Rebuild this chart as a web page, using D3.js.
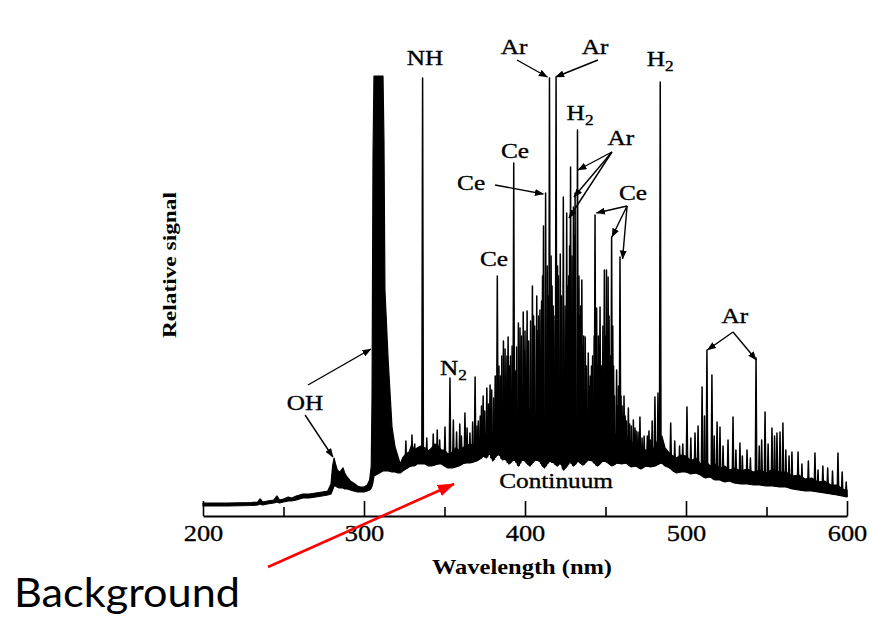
<!DOCTYPE html>
<html><head><meta charset="utf-8">
<script src="https://cdn.jsdelivr.net/npm/d3@7"></script>
<style>
html,body{margin:0;padding:0;background:#fff;}
svg{display:block;}
.ann{font-family:"Liberation Serif","Times New Roman",serif;font-size:22px;fill:#000;stroke:#000;stroke-width:0.35px;}
</style></head><body>
<svg id="chart" width="869" height="618"></svg>
<script>
// ---------- data ----------
const tickValues = [200, 300, 400, 500, 600];
const minorTickValues = [250, 350, 450, 550];

// noisy continuum trace: lower and upper edge (relative signal units)
const bandWavelength = [
  200,215,230,234,235.5,237,240,244,246,247.5,250,253,
  255,258,262,266,270,274,277.5,279.5,280.5,281.4,282.3,283.2,
  284.5,285.5,287,288,289.5,291.5,293.5,296,298,300,302,303.5,
  304.5,305,305.6,306.2,311.8,312.4,313,315,317.4,319.3,321,322.5,
  324,326,328,329.8,331,333,335,338,340,342,344,346,
  348,350,352,355,357,359,361,363,366,368,370,372,
  374,376,378,380,382,384,386,388,390,392,394,396,
  398,400,403,406,409,412,415,418,420,422,424,426,
  428,430,433,436,439,442,445,448,451,454,457,460,
  463,466,469,472,475,478,481,483,485,487,490,492,
  494,497,500,503,506,509,512,515,518,521,524,527,
  530,534,538,542,546,550,554,558,562,566,570,574,
  578,582,586,590,594,597,600];
const bandLow = [
  10,10,10.5,11,12,11,12,13,14,13,14,15,
  15,16,18,18,19,20,21,22,26,30,30,29,
  28,28,28,27,27,26,25,24,24,24,25,26,
  28,30,34,40,45,45,45,45,44,44,43,43,
  45,47,49,50,50,52,52,52,50,50,51,52,
  52,50,48,48,49,50,52,53,53,54,55,57,
  60,58,63,55,60,62,56,57,52,55,56,50,
  56,55,50,56,55,48,55,53,50,54,46,50,
  55,50,55,51,56,55,50,55,54,50,53,52,
  53,49,50,47,50,49,50,52,53,50,48,45,
  43,44,44,42,43,41,38,39,36,36,34,35,
  33,32,32,31,31,30,30,29,29,27,26,25,
  25,24,23,22,21,20,19];
const bandHigh = [
  13,13,13.5,14,17,14,15,16,20,16,17,19,
  18,20,22,22,23,24,25,32,50,58,52,47,
  44,45,48,43,39,35,33,30,29,29,31,36,
  50,120,360,440,440,376,226,156,89,69,60,52,
  58,62,64,72,66,68,70,68,65,68,72,70,
  66,66,62,64,68,66,68,70,72,70,72,78,
  84,80,88,84,90,86,94,88,96,92,100,94,
  102,96,104,98,106,100,104,96,100,94,82,96,
  100,94,98,90,88,92,94,88,90,86,80,76,
  80,74,70,68,66,64,70,78,80,68,62,60,
  58,61,60,55,58,52,55,50,52,48,50,46,
  48,45,47,44,46,43,47,44,44,40,41,37,
  38,34,35,31,31,27,26];

// emission lines: wavelength (nm) and peak height (relative signal units)
const lineWavelength = [
  329.8,336.4,350.3,353.4,355.5,362.7,365.8,369,371,373,375,376.3,
  378.3,380.5,382.8,384.6,385.6,387.6,389.5,391,393,394.8,395.9,396.9,
  398.9,400,401.3,403.5,404.6,406,407.3,408.5,409.3,410.3,411.5,412.8,
  413.8,415.2,416.8,418,419.3,420.8,421.9,423.8,424.9,425.9,427.1,428.3,
  429.2,430.1,431.1,432.6,434,435.3,436.5,437.4,438.2,439.3,440.5,442,
  443.5,444.5,445.5,446.6,447.6,448.4,449.3,450.6,451.6,452.2,453.8,455,
  456.9,458,459,460.3,461.5,463,464.2,466,467.3,469,471.4,474,
  477,479,480.7,482.6,484,490.5,493,496,498,500.6,503,505.6,
  507.5,510,511.5,513,516.1,517.5,519.3,521.1,523,526.1,529.2,531,
  533.5,535,537.9,540,543.5,545.5,547,549.1,551,553.4,555,556.5,
  558.4,560.2,562,564,565.8,569.6,572,576,580.1,582,585,588,
  591,594.4,597,599.5,
  370.2,372.2,374,377.2,379.3,381.5,383.8,386.6,388.8,390.3,392,394,
  397.8,399.6,402.3,405.3,407.9,410.9,414.4,416.2,417.5,420.2,422.7,426.6,
  427.7,430.6,433.5,434.6,436,439.9,441.3,443,445,446.1,447,449.8,
  451.1,453,454.5,455.6,457.5,459.6,462.2,465,468.3,470.2,472.7,476,478,
  326,331.5,339,343,345.5,347,357.5,359.5,360.5,364,367.5];
const linePeak = [
  81,438,89,138,96,103,83,139,95,110,105,128,
  131,118,240,140,160,167,179,160,353,169,193,188,
  204,185,205,195,230,190,220,200,206,215,290,323,
  250,438,230,200,438,240,262,319,210,303,240,349,
  260,309,323,386,200,236,180,179,150,163,140,160,
  301,208,180,209,150,190,246,246,239,200,279,150,
  146,130,259,110,120,95,108,90,96,85,99,80,
  85,95,119,123,434,93,75,70,72,109,78,83,
  90,129,100,166,141,80,94,89,70,76,99,66,
  73,60,66,58,158,70,76,104,72,88,80,83,
  84,93,66,60,64,64,52,55,63,46,50,48,
  45,63,44,34,
  90,100,120,112,126,140,150,175,160,150,170,145,
  180,165,175,200,185,240,220,260,210,250,220,230,
  270,280,240,210,170,130,150,180,150,170,130,180,
  170,160,190,120,110,120,100,92,88,84,78,80,76,
  75,72,78,82,86,76,84,92,80,88,94];

// ---------- drawing ----------
const svg = d3.select("#chart");
const x = d3.scaleLinear().domain([200, 600]).range([203, 847]);
const y = d3.scaleLinear().domain([0, 440]).range([516, 76]);

const defs = svg.append("defs");
defs.append("marker").attr("id","ah").attr("markerUnits","userSpaceOnUse")
  .attr("markerWidth",9).attr("markerHeight",7).attr("refX",8.5).attr("refY",3.5)
  .attr("orient","auto").append("path").attr("d","M0,0L9,3.5L0,7Z").attr("fill","#000");
defs.append("marker").attr("id","ahr").attr("markerUnits","userSpaceOnUse")
  .attr("markerWidth",17).attr("markerHeight",12).attr("refX",16).attr("refY",6)
  .attr("orient","auto").append("path").attr("d","M0,0L17,6L0,12Z").attr("fill","#f00");

const band = bandWavelength.map((w, i) => ({w, lo: bandLow[i], hi: bandHigh[i]}));
svg.append("path").datum(band)
  .attr("d", d3.area().x(d => x(d.w)).y0(d => y(d.lo)).y1(d => y(d.hi)))
  .attr("fill", "#000").attr("stroke", "#000").attr("stroke-width", 1.2)
  .attr("stroke-linejoin", "round");

const bis = d3.bisector(d => d.w).left;
function lowAt(w) {
  const i = Math.max(1, Math.min(band.length - 1, bis(band, w)));
  const a = band[i - 1], b = band[i];
  const t = (w - a.w) / (b.w - a.w);
  return a.lo + t * (b.lo - a.lo);
}
const lines = lineWavelength.map((w, i) => ({w, p: linePeak[i]}));
const lineGen = d3.line();
svg.append("g").selectAll("path").data(lines).join("path")
  .attr("d", d => lineGen([[x(d.w - 0.5), y(lowAt(d.w))], [x(d.w), y(d.p)], [x(d.w + 0.5), y(lowAt(d.w))]]))
  .attr("fill", "#000").attr("stroke", "#000").attr("stroke-width", 1.5)
  .attr("stroke-linejoin", "round");

// axis
const axis = d3.axisBottom(x).tickValues(tickValues).tickSizeInner(-15).tickSizeOuter(0)
  .tickPadding(9).tickFormat(d3.format("d"));
const gA = svg.append("g").attr("transform", "translate(0,516)").call(axis);
gA.select(".domain").attr("stroke-width", 2);
gA.selectAll(".tick line").attr("stroke-width", 1.6);
gA.selectAll(".tick text").attr("font-family", '"Liberation Serif","Times New Roman",serif')
  .attr("font-size", 23).attr("fill", "#000").attr("stroke", "#000").attr("stroke-width", 0.3)
  .attr("transform", "scale(1.15,1)");
const minor = d3.axisBottom(x).tickValues(minorTickValues).tickSizeInner(-9).tickSizeOuter(0).tickFormat("");
const gM = svg.append("g").attr("transform", "translate(0,516)").call(minor);
gM.select(".domain").remove();
gM.selectAll(".tick line").attr("stroke-width", 1.6);

// annotations (in data coordinates)
const P = (w, v) => [x(w), y(v)];
function label(w, v, main, sub) {
  const [px, py] = P(w, v);
  const t = svg.append("text").attr("class", "ann")
    .attr("transform", `translate(${px},${py}) scale(1.15,1)`)
    .attr("text-anchor", "middle").text(main);
  if (sub) t.append("tspan").attr("font-size", 15).attr("dy", 5).text(sub);
}
function arrow(w1, v1, w2, v2) {
  const [a, b] = P(w1, v1), [c, d] = P(w2, v2);
  svg.append("line").attr("x1", a).attr("y1", b).attr("x2", c).attr("y2", d)
    .attr("stroke", "#000").attr("stroke-width", 1.4).attr("marker-end", "url(#ah)");
}
label(263.4, 106, "OH");
arrow(265.2, 131, 304.3, 167);
arrow(263.4, 101, 280.7, 59);
label(337.9, 451, "NH");
label(393.2, 462, "Ar");
arrow(395.0, 456, 413.9, 439);
label(443.5, 462, "Ar");
arrow(445.3, 456, 419.0, 439);
label(483.9, 450, "H", "2");
label(434.2, 396, "H", "2");
label(393.8, 358, "Ce");
label(366.5, 326, "Ce");
arrow(381.4, 331, 411.4, 322);
label(380.7, 250, "Ce");
label(459.6, 371, "Ar");
arrow(454.0, 364, 432.9, 346);
arrow(454.0, 364, 430.4, 319);
arrow(454.0, 364, 427.3, 298);
label(467.1, 316, "Ce");
arrow(463.4, 310, 444.4, 303);
arrow(463.4, 310, 454.0, 279);
arrow(463.4, 310, 460.6, 257);
label(355.6, 141, "N", "2");
label(530.4, 193, "Ar");
arrow(529.2, 184, 513.3, 166);
arrow(529.2, 184, 543.7, 156);
label(419.3, 28, "Continuum");

// axis titles
svg.append("text").attr("x", 522).attr("y", 574).attr("text-anchor", "middle")
  .attr("font-family", '"Liberation Serif","Times New Roman",serif').attr("font-weight", "bold")
  .attr("font-size", 21).attr("textLength", 180).attr("lengthAdjust", "spacingAndGlyphs")
  .text("Wavelength (nm)");
svg.append("text").attr("transform", "translate(176,265) rotate(-90)").attr("text-anchor", "middle")
  .attr("font-family", '"Liberation Serif","Times New Roman",serif').attr("font-weight", "bold")
  .attr("font-size", 19).attr("textLength", 146).attr("lengthAdjust", "spacingAndGlyphs")
  .text("Relative signal");

// red arrow and note
const [r1x, r1y] = P(240.4, -51), [r2x, r2y] = P(355.9, 32);
svg.append("line").attr("x1", r1x).attr("y1", r1y).attr("x2", r2x).attr("y2", r2y)
  .attr("stroke", "#f00").attr("stroke-width", 2.6).attr("marker-end", "url(#ahr)");
svg.append("text").attr("x", 14).attr("y", 607).attr("font-family", "Lato, 'Open Sans', sans-serif")
  .attr("font-size", 40).attr("textLength", 226).attr("lengthAdjust", "spacingAndGlyphs")
  .attr("fill", "#000").text("Background");
</script>
</body></html>
